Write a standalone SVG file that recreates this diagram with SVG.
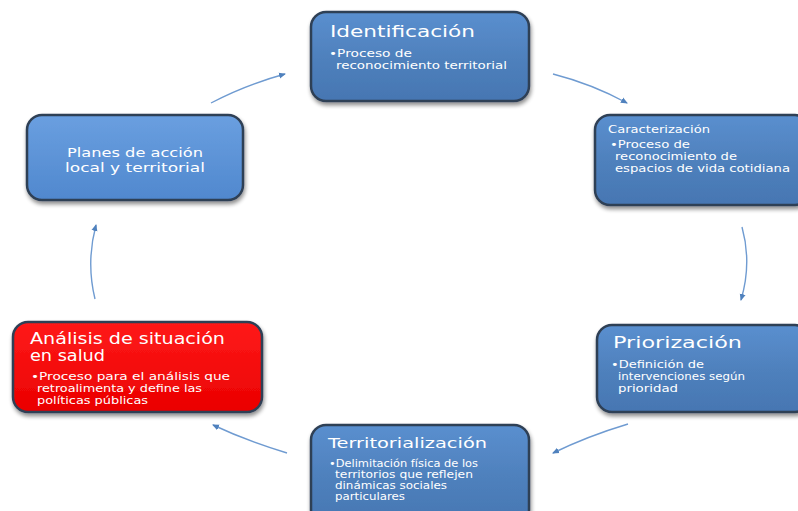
<svg xmlns="http://www.w3.org/2000/svg" width="798" height="511" viewBox="0 0 798 511">
<defs>
<linearGradient id="gb" x1="0" y1="0" x2="0" y2="1">
<stop offset="0" stop-color="#5a8fcf"/>
<stop offset="0.5" stop-color="#4f81bd"/>
<stop offset="1" stop-color="#4676b2"/>
</linearGradient>
<linearGradient id="gl" x1="0" y1="0" x2="0" y2="1">
<stop offset="0" stop-color="#6a9fe0"/>
<stop offset="1" stop-color="#5088ce"/>
</linearGradient>
<linearGradient id="gr" x1="0" y1="0" x2="0" y2="1">
<stop offset="0" stop-color="#ff1a1a"/>
<stop offset="1" stop-color="#ea0000"/>
</linearGradient>
<filter id="sh" x="-10%" y="-10%" width="125%" height="130%">
<feGaussianBlur in="SourceAlpha" stdDeviation="2"/>
<feOffset dx="1" dy="3"/>
<feComponentTransfer><feFuncA type="linear" slope="0.45"/></feComponentTransfer>
<feMerge><feMergeNode/><feMergeNode in="SourceGraphic"/></feMerge>
</filter>
<marker id="ah" markerWidth="8" markerHeight="8" refX="6" refY="4" orient="auto" markerUnits="userSpaceOnUse">
<path d="M0,1 L7,4 L0,7 z" fill="#4f81bd"/>
</marker>
</defs>
<style>
.box{stroke:#2f3f55;stroke-width:2.5;filter:url(#sh)}
.t{font-family:"DejaVu Sans","Liberation Sans",sans-serif;fill:#ffffff}
.b{font-family:"DejaVu Sans","Liberation Sans",sans-serif;fill:#ffffff;font-size:10.5px}
.c{fill:none;stroke:#6f9bd1;stroke-width:1.4;marker-end:url(#ah)}
</style>
<rect width="798" height="511" fill="#ffffff"/>
<g id="connectors">
<path class="c" d="M211,103 Q245,85 285,74"/>
<path class="c" d="M553,74 Q592,84 627,103"/>
<path class="c" d="M742,227 Q752,263 741,300"/>
<path class="c" d="M628,424 Q588,436 553,453"/>
<path class="c" d="M287,453 Q247,441 213,425"/>
<path class="c" d="M95,299 Q86,262 96,225"/>
</g>
<g id="identificacion">
<rect class="box" x="311" y="12" width="218" height="89" rx="15" fill="url(#gb)"/>
<text class="t" x="330" y="37" font-size="16" textLength="145" lengthAdjust="spacingAndGlyphs">Identificación</text>
<text class="b" x="329" y="57" textLength="83" lengthAdjust="spacingAndGlyphs">•Proceso  de</text>
<text class="b" x="336" y="69" textLength="171" lengthAdjust="spacingAndGlyphs">reconocimiento territorial</text>
</g>
<g id="caracterizacion">
<rect class="box" x="595" y="115" width="215" height="90" rx="15" fill="url(#gb)"/>
<text class="t" x="608" y="133" font-size="11" textLength="102" lengthAdjust="spacingAndGlyphs">Caracterización</text>
<text class="b" x="610" y="148" font-size="11" textLength="80" lengthAdjust="spacingAndGlyphs">•Proceso de</text>
<text class="b" x="615" y="160" font-size="11" textLength="122" lengthAdjust="spacingAndGlyphs">reconocimiento de</text>
<text class="b" x="615" y="172" font-size="11" textLength="175" lengthAdjust="spacingAndGlyphs">espacios de vida cotidiana</text>
</g>
<g id="priorizacion">
<rect class="box" x="597" y="325" width="213" height="87" rx="15" fill="url(#gb)"/>
<text class="t" x="613" y="348" font-size="16.5" textLength="129" lengthAdjust="spacingAndGlyphs">Priorización</text>
<text class="b" x="611" y="368" textLength="93" lengthAdjust="spacingAndGlyphs">•Definición de</text>
<text class="b" x="618" y="380" textLength="127" lengthAdjust="spacingAndGlyphs">intervenciones según</text>
<text class="b" x="618" y="392" textLength="60" lengthAdjust="spacingAndGlyphs">prioridad</text>
</g>
<g id="territorializacion">
<rect class="box" x="311" y="425" width="218" height="100" rx="15" fill="url(#gb)"/>
<text class="t" x="328" y="448" font-size="14.5" textLength="159" lengthAdjust="spacingAndGlyphs">Territorialización</text>
<text class="b" x="329" y="467" font-size="10" textLength="149" lengthAdjust="spacingAndGlyphs">•Delimitación física de los</text>
<text class="b" x="335" y="478" font-size="10" textLength="138" lengthAdjust="spacingAndGlyphs">territorios  que reflejen</text>
<text class="b" x="335" y="489" font-size="10" textLength="112" lengthAdjust="spacingAndGlyphs">dinámicas sociales</text>
<text class="b" x="335" y="500" font-size="10" textLength="70" lengthAdjust="spacingAndGlyphs">particulares</text>
</g>
<g id="analisis">
<rect class="box" x="13" y="322" width="249" height="90" rx="15" fill="url(#gr)"/>
<text class="t" x="30" y="344" font-size="15.5" textLength="195" lengthAdjust="spacingAndGlyphs">Análisis de situación</text>
<text class="t" x="30" y="361" font-size="15.5" textLength="75" lengthAdjust="spacingAndGlyphs">en salud</text>
<text class="b" x="31" y="380" textLength="199" lengthAdjust="spacingAndGlyphs">•Proceso para  el análisis  que</text>
<text class="b" x="37" y="392" textLength="165" lengthAdjust="spacingAndGlyphs">retroalimenta y define las</text>
<text class="b" x="37" y="404" textLength="111" lengthAdjust="spacingAndGlyphs">políticas públicas</text>
</g>
<g id="planes">
<rect class="box" x="27" y="115" width="216" height="85" rx="15" fill="url(#gl)"/>
<text class="t" x="67" y="157" font-size="13" textLength="136" lengthAdjust="spacingAndGlyphs">Planes de acción</text>
<text class="t" x="65" y="172" font-size="13" textLength="140" lengthAdjust="spacingAndGlyphs">local y territorial</text>
</g>
</svg>
